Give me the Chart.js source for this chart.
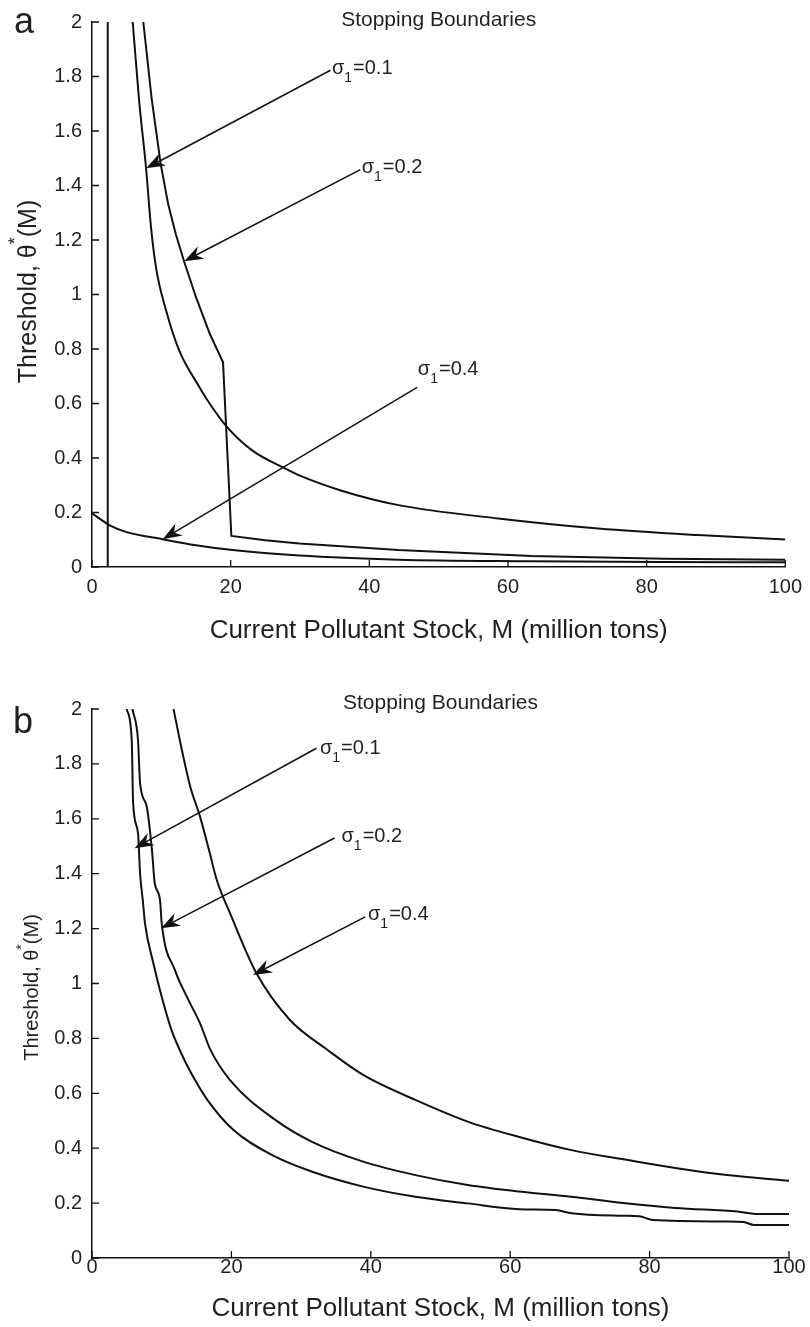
<!DOCTYPE html>
<html lang="en">
<head>
    <meta charset="UTF-8">
    <title>Stopping Boundaries</title>
    <script src="https://cdn.jsdelivr.net/npm/chart.js"></script>
    <style>
        body, html {
            margin: 0;
            padding: 0;
            background: #fff;
            font-family: "Liberation Sans", Arial, sans-serif;
        }
        #wrap { position: relative; width: 810px; height: 1327px; }
        canvas { position: absolute; left: 0; }
    </style>
</head>
<body>
<div id="wrap">
    <canvas id="chartA" width="810" height="650" style="top:0"></canvas>
    <canvas id="chartB" width="810" height="677" style="top:650px"></canvas>
</div>
<script>
    // axis ticks
    const xTicks = [0, 20, 40, 60, 80, 100];
    const xTickLabels = ['0', '20', '40', '60', '80', '100'];
    const yTicks = [0, 0.2, 0.4, 0.6, 0.8, 1, 1.2, 1.4, 1.6, 1.8, 2];
    const yTickLabels = ['0', '0.2', '0.4', '0.6', '0.8', '1', '1.2', '1.4', '1.6', '1.8', '2'];

    // panel a
    const aVertM = [2.27, 2.27];
    const aVertT = [0, 2];
    const aS01M = [5.87, 6.8, 7.8, 8.5, 9.24, 10.7, 12.6, 15.5, 16.7, 19.3, 23.1, 27.9, 29.9, 36, 44.2, 58.6, 73, 87.4, 100];
    const aS01T = [2.0, 1.71, 1.463, 1.25, 1.098, 0.94, 0.793, 0.66, 0.61, 0.519, 0.428, 0.361, 0.336, 0.28, 0.227, 0.178, 0.141, 0.117, 0.101];
    const aS02M = [7.4, 8.6, 9.9, 11.0, 12.1, 13.3, 15.0, 17.0, 18.9, 20.1, 25, 29.9, 44.2, 63.4, 82.6, 100];
    const aS02T = [2.0, 1.72, 1.48, 1.33, 1.22, 1.12, 0.99, 0.855, 0.751, 0.114, 0.098, 0.0865, 0.062, 0.040, 0.030, 0.027];
    const aS04M = [0, 2.5, 5, 10.2, 15, 20.3, 29.9, 44.2, 63, 82, 100];
    const aS04T = [0.197, 0.154, 0.128, 0.102, 0.08, 0.062, 0.042, 0.027, 0.021, 0.018, 0.017];

    // panel b
    const bS01M = [4.98, 5.7, 5.9, 6.6, 6.9, 7.3, 7.6, 8.8, 10.0, 11.4, 12.8, 14.3, 16.55, 20.3, 26.3, 31.5, 38.9, 46.4, 53.9, 61.3, 66.5, 68.8, 76.2, 78.5, 80.5, 91.1, 93.5, 95, 100];
    const bS01T = [2.0, 1.887, 1.657, 1.548, 1.40, 1.30, 1.22, 1.074, 0.952, 0.831, 0.746, 0.67, 0.576, 0.466, 0.369, 0.315, 0.260, 0.223, 0.199, 0.178, 0.175, 0.163, 0.154, 0.152, 0.138, 0.133, 0.131, 0.120, 0.12];
    const bS02M = [5.8, 6.6, 6.9, 7.85, 8.6, 9.0, 9.76, 10.0, 11.9, 13.6, 15.5, 17.0, 19.8, 26.3, 31.5, 38.9, 46.4, 53.9, 61.3, 68.8, 76.2, 83.7, 92.6, 95.6, 100];
    const bS02T = [2.0, 1.887, 1.73, 1.645, 1.487, 1.366, 1.304, 1.22, 1.049, 0.952, 0.855, 0.758, 0.648, 0.503, 0.424, 0.351, 0.302, 0.266, 0.242, 0.223, 0.200, 0.182, 0.169, 0.160, 0.160];
    const bS04M = [11.7, 12.9, 14.1, 15.5, 16.9, 17.9, 19.8, 23.6, 28.4, 33.8, 38.9, 46.4, 53.9, 61.3, 68.8, 76.2, 83.7, 91.1, 100];
    const bS04T = [2.0, 1.85, 1.717, 1.608, 1.475, 1.377, 1.256, 1.037, 0.867, 0.758, 0.667, 0.576, 0.497, 0.441, 0.393, 0.360, 0.328, 0.302, 0.281];

    const ink = '#111';
    const textInk = '#231f20';
    const FONT = '"Liberation Sans", Arial, sans-serif';

    // annotations in data units: label at (tx, ty), arrow from (sx, sy) to tip (ex, ey)
    const notesA = [
        { sub: '1', val: '=0.1', tx: 34.6, ty: 1.835, sx: 34.4, sy: 1.823, ex: 7.8, ey: 1.463 },
        { sub: '1', val: '=0.2', tx: 38.9, ty: 1.470, sx: 38.7, sy: 1.458, ex: 13.3, ey: 1.122 },
        { sub: '1', val: '=0.4', tx: 47.0, ty: 0.731, sx: 46.9, sy: 0.659, ex: 10.2, ey: 0.102 }
    ];
    const notesB = [
        { sub: '1', val: '=0.1', tx: 32.7, ty: 1.862, sx: 32.2, sy: 1.857, ex: 6.1, ey: 1.493 },
        { sub: '1', val: '=0.2', tx: 35.8, ty: 1.541, sx: 34.8, sy: 1.530, ex: 9.9, ey: 1.201 },
        { sub: '1', val: '=0.4', tx: 39.6, ty: 1.257, sx: 39.2, sy: 1.243, ex: 23.1, ey: 1.031 }
    ];

    const pts = (ms, ts) => ms.map((m, i) => ({ x: m, y: ts[i] }));

    function arrow(ctx, x0, y0, x1, y1) {
        const dx = x0 - x1, dy = y0 - y1;
        const len = Math.hypot(dx, dy);
        const ux = dx / len, uy = dy / len;
        const px = -uy, py = ux;
        const L = 19, W = 7, N = 13;
        ctx.beginPath();
        ctx.moveTo(x0, y0);
        ctx.lineTo(x1 + ux * N, y1 + uy * N);
        ctx.lineWidth = 1.5;
        ctx.stroke();
        ctx.beginPath();
        ctx.moveTo(x1, y1);
        ctx.lineTo(x1 + ux * L + px * W, y1 + uy * L + py * W);
        ctx.lineTo(x1 + ux * N, y1 + uy * N);
        ctx.lineTo(x1 + ux * L - px * W, y1 + uy * L - py * W);
        ctx.closePath();
        ctx.fill();
    }

    const decor = {
        id: 'decor',
        afterDraw(chart, args, o) {
            const { ctx, chartArea: ca, scales: { x, y } } = chart;
            ctx.save();
            // inward ticks
            ctx.strokeStyle = ink;
            ctx.lineWidth = 1.3;
            ctx.beginPath();
            x.ticks.forEach(t => {
                const px = x.getPixelForValue(t.value);
                ctx.moveTo(px, ca.bottom); ctx.lineTo(px, ca.bottom - 7);
            });
            y.ticks.forEach(t => {
                const py = y.getPixelForValue(t.value);
                ctx.moveTo(ca.left, py); ctx.lineTo(ca.left + 7, py);
            });
            ctx.stroke();

            ctx.fillStyle = textInk;
            // title
            ctx.font = '21px ' + FONT;
            ctx.textAlign = 'center';
            ctx.textBaseline = 'middle';
            ctx.fillText('Stopping Boundaries', (ca.left + ca.right) / 2, ca.top + o.titleDy);

            // panel letter
            ctx.font = '36px ' + FONT;
            ctx.textAlign = 'left';
            ctx.textBaseline = 'alphabetic';
            ctx.fillText(o.letter, o.letterX, o.letterY);

            // y axis title with superscript star
            const F = o.yFont;
            ctx.save();
            ctx.translate(o.yTitleX, (ca.top + ca.bottom) / 2 + o.yTitleDy);
            ctx.rotate(-Math.PI / 2);
            ctx.font = F + 'px ' + FONT;
            const p1 = 'Threshold, \u03b8', p3 = '(M)';
            const w1 = ctx.measureText(p1).width, w3 = ctx.measureText(p3).width;
            ctx.font = Math.round(F * 0.7) + 'px ' + FONT;
            const w2 = ctx.measureText('*').width;
            let sx = -(w1 + w2 + w3) / 2;
            ctx.font = F + 'px ' + FONT;
            ctx.fillText(p1, sx, 0);
            ctx.font = Math.round(F * 0.7) + 'px ' + FONT;
            ctx.fillText('*', sx + w1, -F * 0.62);
            ctx.font = F + 'px ' + FONT;
            ctx.fillText(p3, sx + w1 + w2, 0);
            ctx.restore();

            // sigma labels and arrows
            ctx.fillStyle = ink;
            o.notes.forEach(n => {
                const s0 = x.getPixelForValue(n.sx), s1 = y.getPixelForValue(n.sy);
                const e0 = x.getPixelForValue(n.ex), e1 = y.getPixelForValue(n.ey);
                arrow(ctx, s0, s1, e0, e1);
                const lx = x.getPixelForValue(n.tx), base = y.getPixelForValue(n.ty) + 7;
                ctx.fillStyle = textInk;
                ctx.textAlign = 'left';
                ctx.font = '20px ' + FONT;
                ctx.fillText('\u03c3', lx, base);
                const ws = ctx.measureText('\u03c3').width;
                ctx.font = '14px ' + FONT;
                ctx.fillText(n.sub, lx + ws, base + 8);
                const w1s = ctx.measureText(n.sub).width;
                ctx.font = '20px ' + FONT;
                ctx.fillText(n.val, lx + ws + w1s + 1, base);
                ctx.fillStyle = ink;
            });
            ctx.restore();
        }
    };

    // straight segments keep the corner of a kinked boundary sharp
    function lineSet(data, straight) {
        return {
            data, showLine: true, borderColor: ink, borderWidth: 2, pointRadius: 0,
            cubicInterpolationMode: straight ? 'default' : 'monotone', tension: 0, fill: false
        };
    }

    function makeChart(id, sets, o) {
        new Chart(document.getElementById(id).getContext('2d'), {
            type: 'scatter',
            data: { datasets: sets.map(s => lineSet(s.data, s.straight)) },
            plugins: [decor],
            options: {
                responsive: false,
                animation: false,
                events: [],
                layout: { padding: { top: o.top, right: o.right, left: 0, bottom: 0 } },
                scales: {
                    x: {
                        type: 'linear', min: 0, max: 100,
                        afterBuildTicks: s => { s.ticks = xTicks.map(v => ({ value: v })); },
                        ticks: { callback: (v, i) => xTickLabels[i], color: textInk, padding: o.xPad, maxRotation: 0, font: { size: 20, family: FONT } },
                        grid: { display: false, drawTicks: false },
                        border: { display: true, color: ink, width: 1.5 },
                        title: { display: true, text: 'Current Pollutant Stock, M (million tons)', color: textInk, font: { size: 26, family: FONT }, padding: { top: 0, bottom: o.xTitlePad } },
                        afterFit: s => { s.height = o.xHeight; }
                    },
                    y: {
                        type: 'linear', min: 0, max: 2,
                        afterBuildTicks: s => { s.ticks = yTicks.map(v => ({ value: v })); },
                        ticks: { callback: (v, i) => yTickLabels[i], color: textInk, padding: 10, font: { size: 20, family: FONT } },
                        grid: { display: false, drawTicks: false },
                        border: { display: true, color: ink, width: 1.5 },
                        afterFit: s => { s.width = 92; }
                    }
                },
                plugins: {
                    legend: { display: false },
                    tooltip: { enabled: false },
                    decor: o.decor
                }
            }
        });
    }

    makeChart('chartA', [
        { data: pts(aVertM, aVertT), straight: true },
        { data: pts(aS01M, aS01T) },
        { data: pts(aS02M, aS02T), straight: true },
        { data: pts(aS04M, aS04T) }
    ], {
        top: 20, right: 22, xHeight: 83, xPad: 8, xTitlePad: 4,
        decor: { letter: 'a', letterX: 14, letterY: 33, titleDy: -2, yTitleX: 36, yTitleDy: -3, yFont: 25, notes: notesA }
    });

    makeChart('chartB', [
        { data: pts(bS01M, bS01T) },
        { data: pts(bS02M, bS02T) },
        { data: pts(bS04M, bS04T) }
    ], {
        top: 59, right: 21, xHeight: 69, xPad: -3, xTitlePad: 3,
        decor: { letter: 'b', letterX: 13, letterY: 83, titleDy: -6, yTitleX: 38, yTitleDy: 4, yFont: 20, notes: notesB }
    });
</script>
</body>
</html>
